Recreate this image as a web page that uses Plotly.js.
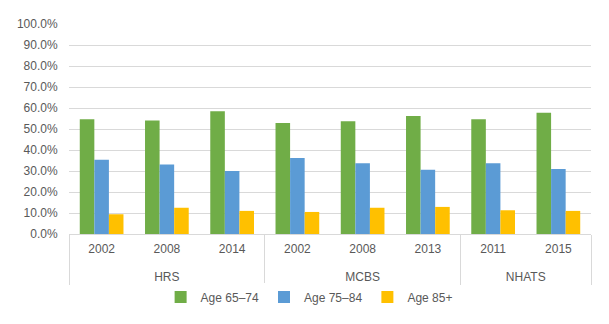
<!DOCTYPE html>
<html>
<head>
<meta charset="utf-8">
<script src="https://cdn.plot.ly/plotly-3.0.1.min.js"></script>
<style>
  html, body { margin: 0; padding: 0; background: #fff; }
  #graphique { width: 609px; height: 324px; }
</style>
</head>
<body>
<div id="graphique"></div>
<script>
// Enquêtes et années (axe multi-catégories)
const enquetes = ["HRS", "HRS", "HRS", "MCBS", "MCBS", "MCBS", "NHATS", "NHATS"];
const annees = ["2002", "2008", "2014", "2002", "2008", "2013", "2011", "2015"];

// Valeurs (en fraction)
const age_65_74 = [0.547, 0.540, 0.585, 0.529, 0.537, 0.562, 0.546, 0.577];
const age_75_84 = [0.354, 0.331, 0.300, 0.362, 0.337, 0.306, 0.337, 0.309];
const age_85_plus = [0.094, 0.125, 0.110, 0.105, 0.125, 0.129, 0.113, 0.110];

const noms_series = ["Age 65\u201374", "Age 75\u201384", "Age 85+"];
const couleurs = ["#70ad47", "#5b9bd5", "#ffc000"];

// Une ligne vide avant le nom de l'enquête pour l'éloigner des années
let etiquettes_enquetes = enquetes.map(e => "<br>" + e);

function trace_barres(valeurs, index) {
    return {
        x: [etiquettes_enquetes, annees],
        y: valeurs,
        type: "bar",
        name: noms_series[index],
        marker: {color: couleurs[index]},
        hoverinfo: "skip"
    };
}

let donnee = [
    trace_barres(age_65_74, 0),
    trace_barres(age_75_84, 1),
    trace_barres(age_85_plus, 2)
];

let apparence = {
    width: 609,
    height: 324,
    margin: {l: 69, r: 18, t: 24, b: 86},
    paper_bgcolor: "#ffffff",
    plot_bgcolor: "#ffffff",
    font: {family: "Liberation Sans, Arial, sans-serif", size: 12, color: "#595959"},
    barmode: "group",
    bargap: 0.33,
    bargroupgap: 0,
    showlegend: true,
    legend: {
        orientation: "h",
        x: 0.46,
        xanchor: "center",
        y: -0.3,
        yanchor: "middle",
        font: {size: 12, color: "#595959"},
        itemwidth: 30,
        tracegroupgap: 0
    },
    xaxis: {
        type: "multicategory",
        automargin: false,
        showline: true,
        linecolor: "#d9d9d9",
        linewidth: 1,
        showdividers: true,
        dividercolor: "#d9d9d9",
        dividerwidth: 1,
        ticks: "",
        ticklabelstandoff: 4,
        tickfont: {size: 12, color: "#595959"}
    },
    yaxis: {
        automargin: false,
        range: [0, 1],
        dtick: 0.1,
        tickformat: ".1%",
        showgrid: true,
        gridcolor: "#d9d9d9",
        gridwidth: 1,
        zeroline: false,
        showline: false,
        // graduations invisibles : elles éloignent seulement les étiquettes
        ticks: "outside",
        ticklen: 8,
        tickcolor: "rgba(0,0,0,0)",
        tickfont: {size: 12, color: "#595959"}
    }
};

Plotly.newPlot("graphique", donnee, apparence, {displayModeBar: false, staticPlot: true});
</script>
</body>
</html>
